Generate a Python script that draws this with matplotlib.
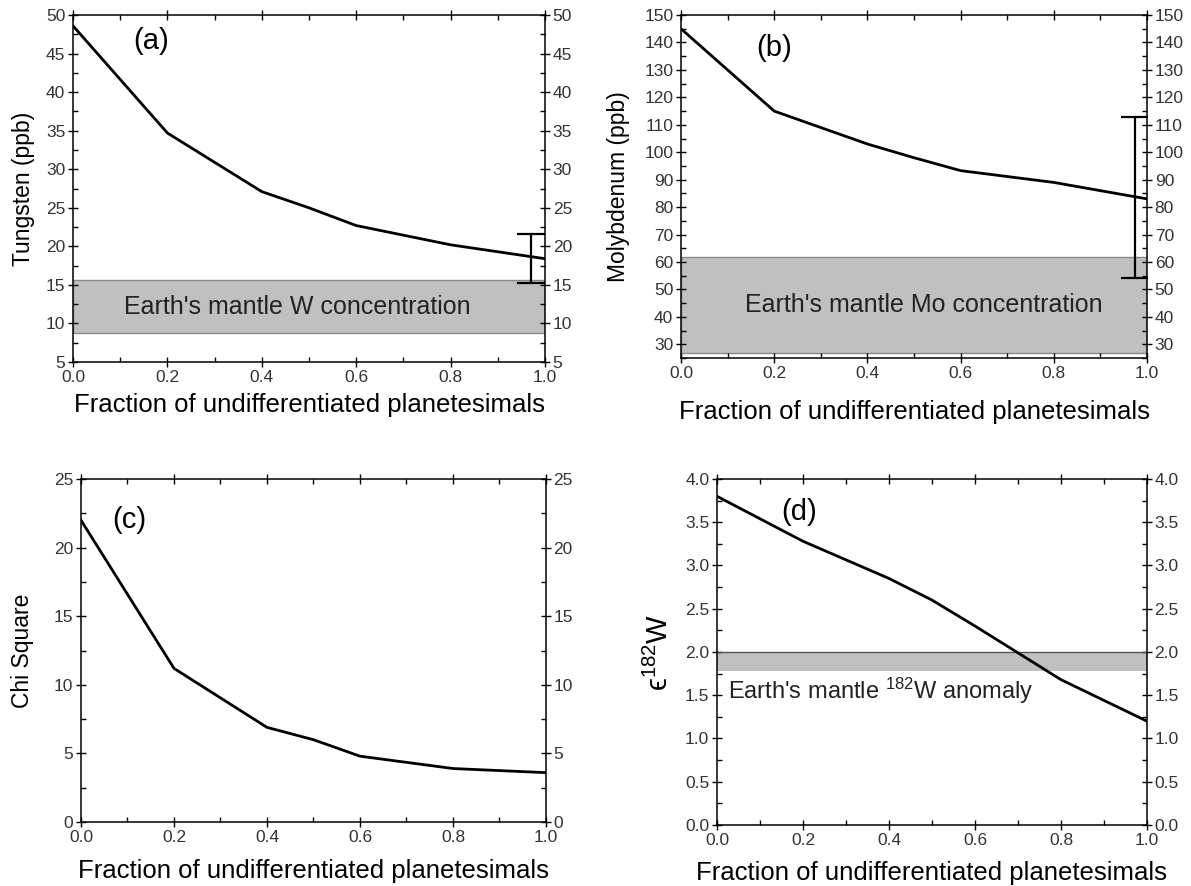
import matplotlib
matplotlib.use("Agg")
import matplotlib.pyplot as plt
from matplotlib.ticker import MultipleLocator, FormatStrFormatter

plt.rcParams['font.family'] = ['Liberation Sans', 'DejaVu Sans']
plt.rcParams['mathtext.fontset'] = 'custom'
plt.rcParams['mathtext.rm'] = 'Liberation Sans'
plt.rcParams['mathtext.it'] = 'Liberation Sans:italic'

# ---- data ----
frac = [0.0, 0.2, 0.4, 0.5, 0.6, 0.8, 1.0]
tungsten = [48.6, 34.7, 27.1, 25.0, 22.7, 20.2, 18.4]
molybdenum = [145.0, 115.0, 103.0, 98.0, 93.3, 89.0, 83.0]
chi_square = [22.0, 11.2, 6.9, 6.0, 4.8, 3.9, 3.6]
eps_w = [3.80, 3.28, 2.85, 2.60, 2.30, 1.68, 1.20]

w_err_x, w_err_lo, w_err_hi = 0.97, 15.3, 21.6
mo_err_x, mo_err_lo, mo_err_hi = 0.975, 54.0, 113.0

w_band = (8.8, 15.6)
mo_band = (27.0, 62.0)
eps_band = (1.78, 2.0)

xlabel = "Fraction of undifferentiated planetesimals"

fig = plt.figure(figsize=(11.91, 8.86), dpi=100)

def make_ax(rect, ylim, ymaj, ymin, fmt, ylabel):
    ax = fig.add_axes(rect)
    ax.set_xlim(0, 1)
    ax.set_ylim(*ylim)
    ax.xaxis.set_major_locator(MultipleLocator(0.2))
    ax.xaxis.set_minor_locator(MultipleLocator(0.1))
    ax.yaxis.set_major_locator(MultipleLocator(ymaj))
    ax.yaxis.set_minor_locator(MultipleLocator(ymin))
    ax.xaxis.set_major_formatter(FormatStrFormatter('%.1f'))
    ax.yaxis.set_major_formatter(FormatStrFormatter(fmt))
    ax.tick_params(which='major', direction='inout', length=7, width=1.0,
                   top=True, right=True, labelright=True, labelsize=12.5,
                   labelcolor='#333333', pad=2)
    ax.tick_params(which='minor', direction='in', length=3.5, width=1.0,
                   top=True, right=True)
    for s in ax.spines.values():
        s.set_linewidth(1.1)
    ax.set_xlabel(xlabel, fontsize=18.5, labelpad=6)
    ax.set_ylabel(ylabel, fontsize=16.5)
    return ax

# (a)
axa = make_ax([0.0613, 0.5914, 0.3963, 0.3916], (5, 50), 5, 2.5, '%d', "Tungsten (ppb)")
axa.axhspan(*w_band, facecolor='#c0c0c0', edgecolor='#888888', lw=1.0, zorder=1)
axa.plot(frac, tungsten, color='black', lw=2.0, zorder=3)
axa.errorbar([w_err_x], [(w_err_lo + w_err_hi) / 2],
             yerr=[[(w_err_hi - w_err_lo) / 2], [(w_err_hi - w_err_lo) / 2]],
             fmt='none', ecolor='black', elinewidth=1.6, capsize=10, capthick=1.6, zorder=4)
axa.text(0.475, 12.2, "Earth's mantle W concentration", fontsize=18, ha='center', va='center', color='#222222')
axa.text(0.165, 46.7, "(a)", fontsize=21, ha='center', va='center')
axa.yaxis.set_label_coords(-0.08, 0.5)

# (b)
axb = make_ax([0.5718, 0.5959, 0.3913, 0.3871], (25, 150), 10, 5, '%d', "Molybdenum (ppb)")
axb.axhspan(*mo_band, facecolor='#c0c0c0', edgecolor='#888888', lw=1.0, zorder=1)
axb.plot(frac, molybdenum, color='black', lw=2.0, zorder=3)
axb.errorbar([mo_err_x], [(mo_err_lo + mo_err_hi) / 2],
             yerr=[[(mo_err_hi - mo_err_lo) / 2], [(mo_err_hi - mo_err_lo) / 2]],
             fmt='none', ecolor='black', elinewidth=1.6, capsize=10, capthick=1.6, zorder=4)
axb.text(0.52, 44.5, "Earth's mantle Mo concentration", fontsize=18, ha='center', va='center', color='#222222')
axb.text(0.2, 138, "(b)", fontsize=21, ha='center', va='center')
axb.yaxis.set_label_coords(-0.11, 0.5)
axb.xaxis.labelpad = 14

# (c)
axc = make_ax([0.0680, 0.0722, 0.3904, 0.3871], (0, 25), 5, 2.5, '%d', "Chi Square")
axc.plot(frac, chi_square, color='black', lw=2.0, zorder=3)
axc.text(0.105, 22.0, "(c)", fontsize=21, ha='center', va='center')
axc.yaxis.set_label_coords(-0.1, 0.5)
axc.xaxis.labelpad = 10

# (d)
axd = make_ax([0.6020, 0.0689, 0.3610, 0.3905], (0, 4), 0.5, 0.25, '%.1f', r"ϵ$^{182}$W")
axd.axhspan(*eps_band, facecolor='#c0c0c0', edgecolor='none', zorder=1)
axd.axhline(eps_band[1], color='#555555', lw=1.0, zorder=2)
axd.plot(frac, eps_w, color='black', lw=2.0, zorder=3)
axd.text(0.026, 1.55, r"Earth's mantle $^{182}$W anomaly", fontsize=17, ha='left', va='center', color='#222222')
axd.text(0.19, 3.62, "(d)", fontsize=21, ha='center', va='center')
axd.yaxis.set_label_coords(-0.10, 0.5)
axd.yaxis.label.set_size(21)
axd.xaxis.labelpad = 10

fig.savefig("out.png", dpi=100)
